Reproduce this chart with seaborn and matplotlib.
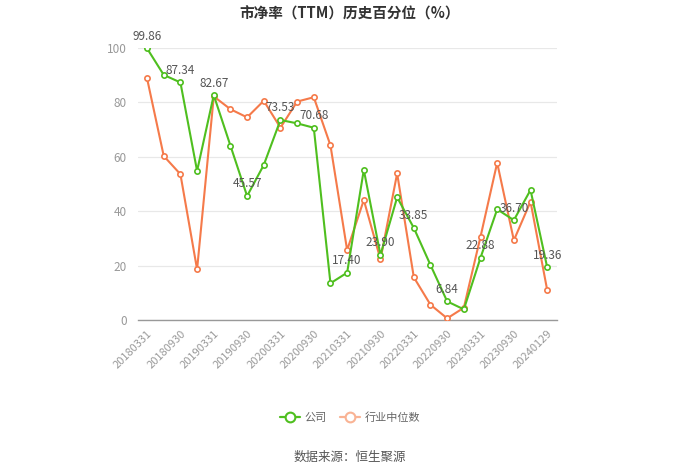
import matplotlib
matplotlib.use("Agg")
import matplotlib.pyplot as plt
import seaborn as sns
import pandas as pd
from matplotlib.lines import Line2D

dates = ["20180331", "20180630", "20180930", "20181231", "20190331", "20190630", "20190930",
         "20191231", "20200331", "20200630", "20200930", "20201231", "20210331", "20210630",
         "20210930", "20211231", "20220331", "20220630", "20220930", "20221231", "20230331",
         "20230630", "20230930", "20231231", "20240129"]
company = [99.86, 90.1, 87.34, 54.8, 82.67, 64.1, 45.57, 57.0, 73.53, 72.3, 70.68, 13.5, 17.40,
           55.2, 23.90, 45.1, 33.85, 20.2, 6.84, 3.9, 22.88, 40.7, 36.70, 47.8, 19.36]
industry = [88.8, 60.3, 53.6, 18.6, 82.2, 77.5, 74.5, 80.6, 70.7, 80.3, 81.9, 64.2, 25.7,
            44.1, 22.3, 53.9, 15.7, 5.6, 0.6, 4.5, 30.6, 57.8, 29.3, 43.5, 11.0]
series_names = ["公司", "行业中位数"]
title = "市净率（TTM）历史百分位（%）"
source = "数据来源：恒生聚源"

sns.set_theme(style="white")
plt.rcParams['font.family'] = ['Noto Sans CJK SC', 'DejaVu Sans']

green = "#4fbf1f"
orange = "#f57a4a"

n = len(dates)
df_ind = pd.DataFrame({"idx": range(n), "value": industry})
df_com = pd.DataFrame({"idx": range(n), "value": company})

fig = plt.figure(figsize=(7, 4.73), dpi=100)
ax = fig.add_axes([0.197, 0.3235, 0.599, 0.575])

sns.lineplot(data=df_ind, x="idx", y="value", color=orange, marker="o", markersize=3.8,
             markerfacecolor="white", markeredgecolor=orange, markeredgewidth=1.2,
             linewidth=1.5, ax=ax, zorder=3)
sns.lineplot(data=df_com, x="idx", y="value", color=green, marker="o", markersize=3.8,
             markerfacecolor="white", markeredgecolor=green, markeredgewidth=1.2,
             linewidth=1.5, ax=ax, zorder=4)

ax.set_xlim(-0.55, 24.6)
ax.set_ylim(0, 100)
ax.set_yticks([0, 20, 40, 60, 80, 100])
ax.set_yticklabels(["0", "20", "40", "60", "80", "100"], color="#999999", fontsize=8.5)
ax.yaxis.grid(True, color="#e8e8e8", linewidth=0.9)
ax.set_axisbelow(True)
ax.set_xticks(list(range(0, n, 2)))
ax.set_xticklabels([dates[i] for i in range(0, n, 2)], rotation=45, ha="right",
                   rotation_mode="anchor", color="#999999", fontsize=8)
ax.tick_params(axis="x", length=4, color="#999999", width=0.9, pad=2)
ax.tick_params(axis="y", length=0, pad=8)
for s in ["top", "right", "left"]:
    ax.spines[s].set_visible(False)
ax.spines["bottom"].set_color("#999999")
ax.spines["bottom"].set_linewidth(1)
ax.set_xlabel("")
ax.set_ylabel("")

for i in range(0, n, 2):
    ax.annotate(f"{company[i]:.2f}", (i, company[i]), xytext=(0, 4),
                textcoords="offset points", ha="center", va="bottom",
                fontsize=8.5, color="#555555", zorder=6)

fig.text(0.5, 0.972, title, ha="center", va="center", fontsize=10.5,
         fontweight="bold", color="#333333")

handles = [Line2D([0], [0], color=green, marker="o", markerfacecolor="white",
                  markeredgecolor=green, markersize=7, markeredgewidth=1.5, linewidth=1.6),
           Line2D([0], [0], color="#f9b394", marker="o", markerfacecolor="white",
                  markeredgecolor="#f9b394", markersize=7, markeredgewidth=1.5, linewidth=1.6)]
leg = fig.legend(handles, series_names, loc="center", bbox_to_anchor=(0.5, 0.118),
                 ncol=2, frameon=False, fontsize=8, handlelength=1.8,
                 columnspacing=1.2, handletextpad=0.4)
for t in leg.get_texts():
    t.set_color("#666666")

fig.text(0.5, 0.034, source, ha="center", va="center", fontsize=9, color="#555555")

fig.savefig("out.png", dpi=100)
